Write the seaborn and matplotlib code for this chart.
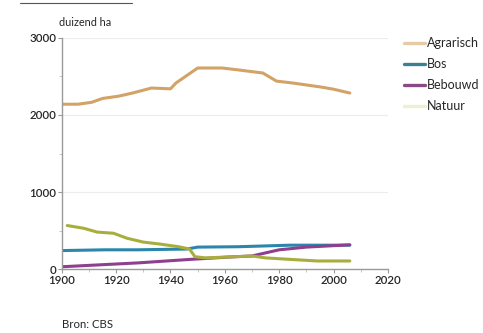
import matplotlib
matplotlib.use("Agg")
import matplotlib.pyplot as plt
from matplotlib.lines import Line2D
from matplotlib.ticker import MultipleLocator
import seaborn as sns
import pandas as pd

# Land use in the Netherlands (thousand hectares)
agr_years = [1900, 1906, 1911, 1915, 1921, 1926, 1933, 1940, 1942, 1950, 1959, 1965, 1974, 1979, 1985, 1995, 2000, 2006]
agr_vals = [2140, 2140, 2165, 2215, 2245, 2285, 2350, 2340, 2415, 2610, 2610, 2585, 2545, 2440, 2415, 2365, 2335, 2285]

bos_years = [1900, 1916, 1928, 1946, 1950, 1965, 1984, 2006]
bos_vals = [240, 250, 250, 260, 285, 290, 310, 310]

beb_years = [1900, 1928, 1947, 1961, 1970, 1980, 1990, 2006]
beb_vals = [30, 80, 125, 155, 170, 250, 285, 315]

nat_years = [1902, 1908, 1913, 1919, 1924, 1930, 1936, 1943, 1947, 1949, 1953, 1970, 1975, 1982, 1994, 2006]
nat_vals = [565, 530, 480, 465, 400, 350, 325, 290, 260, 160, 145, 170, 145, 130, 105, 105]

series = ["Agrarisch", "Bos", "Bebouwd", "Natuur"]
line_colors = ["#d3a266", "#2c86ab", "#8e3f8e", "#a7ae3e"]
legend_colors = ["#e8cba6", "#3d7f94", "#8a4a85", "#eef0cf"]

frames = []
for name, yrs, vals in [("Agrarisch", agr_years, agr_vals), ("Bos", bos_years, bos_vals),
                        ("Bebouwd", beb_years, beb_vals), ("Natuur", nat_years, nat_vals)]:
    frames.append(pd.DataFrame({"jaar": yrs, "waarde": vals, "soort": name}))
df = pd.concat(frames, ignore_index=True)

sns.set_style("white")
plt.rcParams["font.family"] = ["Lato", "DejaVu Sans"]

fig = plt.figure(figsize=(4.83, 3.33), dpi=100)
ax = fig.add_axes([0.128, 0.192, 0.675, 0.694])

sns.lineplot(data=df, x="jaar", y="waarde", hue="soort", hue_order=series,
             palette=dict(zip(series, line_colors)), linewidth=2.2, ax=ax,
             legend=False, sort=False)

ax.set_xlim(1900, 2020)
ax.set_ylim(0, 3000)
ax.xaxis.set_major_locator(MultipleLocator(20))
ax.xaxis.set_minor_locator(MultipleLocator(10))
ax.yaxis.set_major_locator(MultipleLocator(1000))
ax.yaxis.set_minor_locator(MultipleLocator(500))
ax.grid(axis="y", which="major", color="#ececec", linewidth=0.8)
ax.set_axisbelow(True)
for s in ["top", "right"]:
    ax.spines[s].set_visible(False)
for s in ["left", "bottom"]:
    ax.spines[s].set_color("#9a9a9a")
    ax.spines[s].set_linewidth(1.0)
ax.tick_params(which="major", length=3, color="#9a9a9a", labelsize=8.3, pad=1)
ax.tick_params(which="minor", length=2, color="#bbbbbb")
ax.tick_params(axis="both", which="both", bottom=True, left=True)
for lab in ax.get_xticklabels() + ax.get_yticklabels():
    lab.set_fontweight("semibold")
ax.set_xlabel("")
ax.set_ylabel("")

fig.text(59 / 483, 1 - 23 / 333, "duizend ha", fontsize=7.8, va="center", ha="left")
fig.text(62 / 483, 1 - 325 / 333, "Bron: CBS", fontsize=8.2, va="center", ha="left")
fig.add_artist(Line2D([20 / 483, 132 / 483], [1 - 3 / 333, 1 - 3 / 333],
                      color="#555555", linewidth=0.8))

handles = [Line2D([], [], color=c, linewidth=2.4) for c in legend_colors]
fig.legend(handles, series, loc="upper left", bbox_to_anchor=(404 / 483, 1 - 37 / 333),
           frameon=False, fontsize=9, handlelength=1.7, handletextpad=0.15,
           labelspacing=0.72, borderaxespad=0, borderpad=0)

fig.savefig("out.png", dpi=100)
